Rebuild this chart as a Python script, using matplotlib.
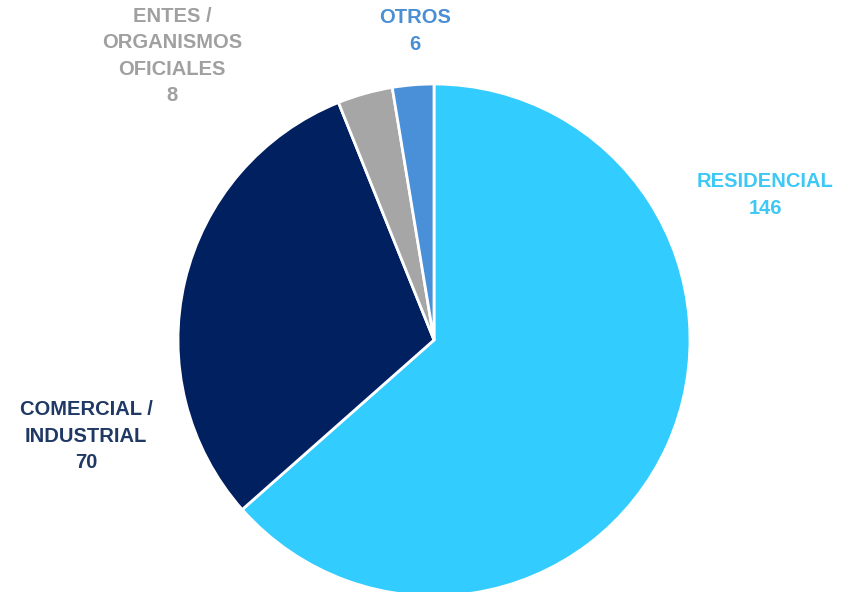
import matplotlib.pyplot as plt

categories = ['RESIDENCIAL', 'COMERCIAL /\nINDUSTRIAL', 'ENTES /\nORGANISMOS\nOFICIALES', 'OTROS']
values = [146, 70, 8, 6]
colors = ['#33CCFF', '#002060', '#A6A6A6', '#4A90D9']
text_colors = ['#3EC8F5', '#1F3864', '#A0A0A0', '#4A8ED4']
# label centres in pixel coords (y up)
label_pos = [(765, 397), (86, 156), (172, 536), (415, 561)]

W, H = 843, 592
fig = plt.figure(figsize=(W / 100, H / 100), dpi=100)
ax = fig.add_axes([0, 0, 1, 1])
ax.set_xlim(0, W)
ax.set_ylim(0, H)
ax.set_aspect('equal')
ax.axis('off')

ax.pie(values, colors=colors, startangle=90, counterclock=False,
       center=(434, 252), radius=256,
       wedgeprops=dict(edgecolor='white', linewidth=2))
ax.set_xlim(0, W)
ax.set_ylim(0, H)

for cat, v, c, (x, y) in zip(categories, values, text_colors, label_pos):
    ax.text(x, y, f'{cat}\n{v}', ha='center', va='center', color=c,
            fontsize=14.5, fontweight='bold', family='Liberation Sans',
            linespacing=1.5)

fig.savefig('out.png', dpi=100)
